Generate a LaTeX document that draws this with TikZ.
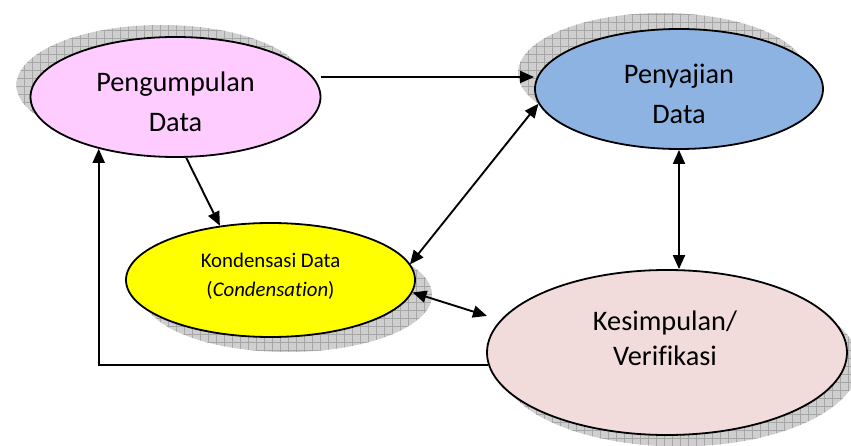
\documentclass[tikz,border=0pt]{standalone}
\usepackage{fontspec}
\setmainfont{Carlito}[Ligatures=NoCommon]
\usetikzlibrary{shapes.geometric,arrows.meta,patterns.meta,calc}
\definecolor{pinkc}{HTML}{FFCCFF}
\definecolor{bluec}{HTML}{8DB3E2}
\definecolor{yellowc}{HTML}{FFFF00}
\definecolor{rosec}{HTML}{F2DCDB}
\tikzset{
  ell/.style={ellipse, draw=black, line width=1.8pt, inner sep=0pt},
  shd/.style={ellipse, inner sep=0pt, fill=gray!38,
    postaction={pattern={Lines[distance=8pt,angle=0,line width=0.5pt]}, pattern color=gray!70},
    postaction={pattern={Lines[distance=8pt,angle=90,line width=0.5pt]}, pattern color=gray!70}},
  tip/.tip={Triangle[length=14pt,width=12pt]},
  arr/.style={line width=1.9pt, -tip},
  darr/.style={line width=1.9pt, tip-tip},
  big/.style={align=center, font=\fontsize{28.3}{40}\selectfont},
}
\begin{document}
\begin{tikzpicture}[x=1pt,y=-1pt]
\useasboundingbox (0,0) rectangle (851,446);
% shadows
\node[shd, minimum width=290, minimum height=120] (pds) at (161.5,85) {};
\node[shd, minimum width=288, minimum height=120] (pjs) at (662,73) {};
\node[shd, minimum width=289, minimum height=114] (kds) at (287.5,295) {};
\node[shd, minimum width=360, minimum height=165] (kss) at (679,364) {};
% ellipses
\node[ell, fill=pinkc, minimum width=290, minimum height=120] (pd) at (175.5,97) {};
\node[ell, fill=bluec, minimum width=288, minimum height=120] (pj) at (679,89) {};
\node[ell, fill=yellowc, minimum width=289, minimum height=114] (kd) at (270.5,280) {};
\node[ell, fill=rosec, minimum width=360, minimum height=165] (ks) at (667,352.5) {};
% texts
\node[big] (pdt) at ($(pd)+(0,4.5)$) {Pengumpulan\\Data};
\node[big] (pjt) at ($(pj)+(0,5)$) {Penyajian\\Data};
\node[align=center, font=\fontsize{20.8}{29}\selectfont] (kdt) at ($(kd)+(0,-4)$) {Kondensasi Data\\(\textit{Condensation})};
\node[big, font=\fontsize{28.3}{35}\selectfont] (kst) at ($(ks)+(-2,-14)$) {Kesimpulan/\\Verifikasi};
% connectors
\draw[arr] ([yshift=20pt]pd.east) -- ([yshift=20pt]pd.east -| pj.west);
\draw[arr] (pd.-80) -- (kd.133);
\draw[darr] (kds.14) -- (pj.186);
\draw[darr] (pj.south) -- (pj.south |- ks.north);
\draw[darr, shorten >=14pt] (kd.-5) -- (ks.169);
\draw[arr] (ks.184) -| (pd.214.7);
\end{tikzpicture}
\end{document}
